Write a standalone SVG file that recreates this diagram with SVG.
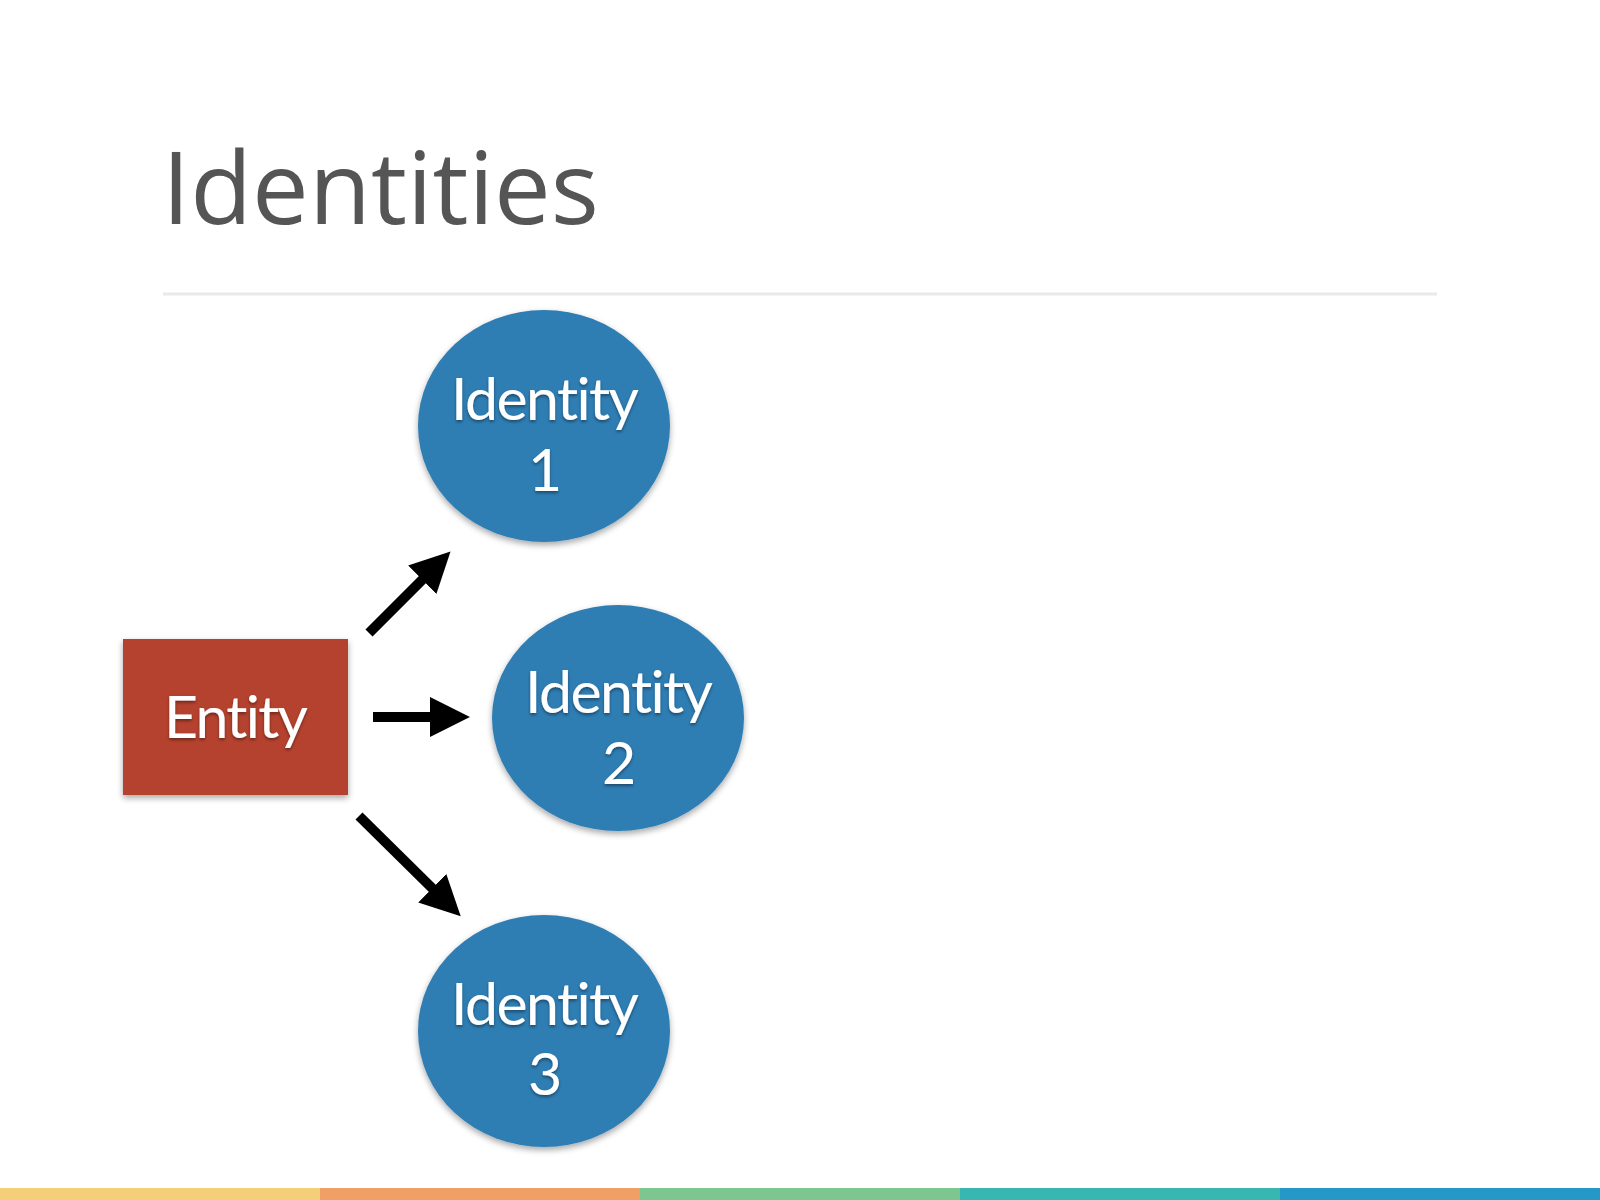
<svg xmlns="http://www.w3.org/2000/svg" width="1600" height="1200" viewBox="0 0 1600 1200">
<defs>
<filter id="sh" x="-20%" y="-20%" width="140%" height="150%">
<feDropShadow dx="0" dy="3" stdDeviation="3" flood-color="#000" flood-opacity="0.35"/>
</filter>
<filter id="tsh" x="-10%" y="-20%" width="120%" height="150%">
<feDropShadow dx="0" dy="2" stdDeviation="1.5" flood-color="#000" flood-opacity="0.4"/>
</filter>
<marker id="ah" markerUnits="userSpaceOnUse" markerWidth="40" markerHeight="40" viewBox="0 0 38 38" refX="1" refY="19" orient="auto">
<path d="M0,0 L38,19 L0,38 Z" fill="#000"/>
</marker>
</defs>
<style>
.title{font-family:"Open Sans","Noto Sans",sans-serif;font-size:100px;fill:#555555}
.lbl{font-family:Lato,"Open Sans",sans-serif;font-size:59px;fill:#ffffff;text-anchor:middle;font-variant-ligatures:none}
.id{fill:#2f7db3}
.ent{fill:#b4432f}
.conn{stroke:#000;stroke-width:10;fill:none;marker-end:url(#ah)}
</style>
<rect width="1600" height="1200" fill="#ffffff"/>
<text class="title" x="162" y="224" textLength="437" lengthAdjust="spacingAndGlyphs">Identities</text>
<line x1="163" y1="294" x2="1437" y2="294" stroke="#e9e9e9" stroke-width="3"/>
<g id="entity">
<rect class="ent" x="123" y="639" width="225" height="156" filter="url(#sh)"/>
<text class="lbl" x="236" y="738" textLength="144" filter="url(#tsh)">Entity</text>
</g>
<g id="identity1">
<ellipse class="id" cx="544" cy="426" rx="126" ry="116" filter="url(#sh)"/>
<text class="lbl" x="545" y="420" textLength="188" filter="url(#tsh)">Identity</text>
<text class="lbl" x="545" y="491" filter="url(#tsh)">1</text>
</g>
<g id="identity2">
<ellipse class="id" cx="618" cy="718" rx="126" ry="113" filter="url(#sh)"/>
<text class="lbl" x="619" y="713" textLength="188" filter="url(#tsh)">Identity</text>
<text class="lbl" x="619" y="784" filter="url(#tsh)">2</text>
</g>
<g id="identity3">
<ellipse class="id" cx="544" cy="1031" rx="126" ry="116" filter="url(#sh)"/>
<text class="lbl" x="545" y="1025" textLength="188" filter="url(#tsh)">Identity</text>
<text class="lbl" x="545" y="1095" filter="url(#tsh)">3</text>
</g>
<g id="connectors">
<line class="conn" x1="369" y1="633" x2="423" y2="579"/>
<line class="conn" x1="373" y1="717" x2="431" y2="717"/>
<line class="conn" x1="359" y1="816" x2="433" y2="889"/>
</g>
<g id="bar">
<rect x="0" y="1188" width="320" height="12" fill="#f5cf77"/>
<rect x="320" y="1188" width="320" height="12" fill="#f0a067"/>
<rect x="640" y="1188" width="320" height="12" fill="#7dc68f"/>
<rect x="960" y="1188" width="320" height="12" fill="#38b6b2"/>
<rect x="1280" y="1188" width="320" height="12" fill="#2698c8"/>
</g>
</svg>
